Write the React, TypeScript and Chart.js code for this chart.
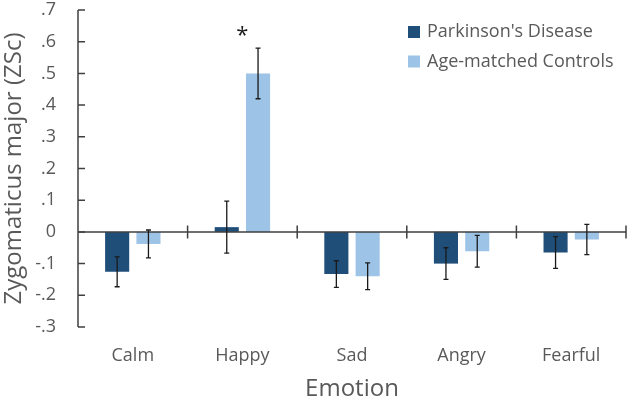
import React, { useEffect, useRef } from "react";
import { Chart, registerables } from "chart.js";

Chart.register(...registerables);

const categories = ["Calm", "Happy", "Sad", "Angry", "Fearful"];
const seriesLabels = ["Parkinson's Disease", "Age-matched Controls"];
const pdValues = [-0.126, 0.015, -0.133, -0.1, -0.065];
const pdErrors = [0.047, 0.082, 0.042, 0.05, 0.05];
const acValues = [-0.038, 0.5, -0.14, -0.061, -0.024];
const acErrors = [0.044, 0.08, 0.042, 0.05, 0.048];
const significant = [false, true, false, false, false];
const yMin = -0.3;
const yMax = 0.7;
const yStep = 0.1;

const FONT = "'Open Sans', 'Noto Sans', sans-serif";
const TEXT = "#595959";
const AXIS = "#404040";
const COLORS = ["#1f4e79", "#9dc3e6"];

const errors = [pdErrors, acErrors];

const fmtTick = (v: number) => {
  const r = Math.round(v * 10) / 10;
  if (Math.abs(r) < 1e-9) return "0";
  const s = r.toFixed(1);
  return s.replace("0.", ".");
};

const overlay = {
  id: "overlay",
  afterDatasetsDraw(chart: any) {
    const ctx = chart.ctx;
    const area = chart.chartArea;
    const x = chart.scales.x;
    const y = chart.scales.y;
    ctx.save();
    // zero line with crossing ticks at category boundaries
    const y0 = y.getPixelForValue(0);
    ctx.strokeStyle = AXIS;
    ctx.lineWidth = 1.5;
    ctx.beginPath();
    ctx.moveTo(area.left, y0);
    ctx.lineTo(area.right, y0);
    const n = categories.length;
    for (let i = 1; i <= n; i++) {
      const bx = x.getPixelForValue(i - 0.5);
      ctx.moveTo(bx, y0 - 6.5);
      ctx.lineTo(bx, y0 + 6.5);
    }
    ctx.stroke();
    // y ticks inward
    ctx.beginPath();
    for (let v = yMin; v <= yMax + 1e-9; v += yStep) {
      const py = y.getPixelForValue(v);
      ctx.moveTo(area.left, py);
      ctx.lineTo(area.left + 7, py);
    }
    ctx.moveTo(area.left, y.getPixelForValue(yMax));
    ctx.lineTo(area.left, y.getPixelForValue(yMin));
    ctx.stroke();
    // error bars
    ctx.strokeStyle = "#1a1a1a";
    ctx.lineWidth = 1.3;
    chart.data.datasets.forEach((ds: any, di: number) => {
      const meta = chart.getDatasetMeta(di);
      meta.data.forEach((bar: any, i: number) => {
        const v = ds.data[i];
        const e = errors[di][i];
        const top = y.getPixelForValue(v + e);
        const bot = y.getPixelForValue(v - e);
        const cx = bar.x;
        ctx.beginPath();
        ctx.moveTo(cx, top);
        ctx.lineTo(cx, bot);
        ctx.moveTo(cx - 2.5, top);
        ctx.lineTo(cx + 2.5, top);
        ctx.moveTo(cx - 2.5, bot);
        ctx.lineTo(cx + 2.5, bot);
        ctx.stroke();
      });
    });
    // significance markers
    ctx.fillStyle = "#1a1a1a";
    ctx.font = `22px ${FONT}`;
    ctx.textAlign = "center";
    ctx.textBaseline = "middle";
    significant.forEach((s, i) => {
      if (!s) return;
      const top = Math.max(pdValues[i] + pdErrors[i], acValues[i] + acErrors[i]);
      ctx.fillText("*", x.getPixelForValue(i), y.getPixelForValue(top) - 12);
    });
    // legend
    ctx.font = `18px ${FONT}`;
    ctx.textAlign = "left";
    ctx.textBaseline = "middle";
    seriesLabels.forEach((lab, i) => {
      const ly = 32 + i * 29.5;
      ctx.fillStyle = COLORS[i];
      ctx.fillRect(408, ly - 6, 12, 12);
      ctx.fillStyle = TEXT;
      ctx.fillText(lab, 427, ly);
    });
    ctx.restore();
  },
};

export default function App() {
  const ref = useRef<HTMLCanvasElement>(null);
  useEffect(() => {
    if (!ref.current) return;
    const chart = new Chart(ref.current, {
      type: "bar",
      data: {
        labels: categories,
        datasets: [
          { label: seriesLabels[0], data: pdValues, backgroundColor: COLORS[0], borderWidth: 0 },
          { label: seriesLabels[1], data: acValues, backgroundColor: COLORS[1], borderWidth: 0 },
        ],
      },
      options: {
        animation: false,
        responsive: false,
        maintainAspectRatio: false,
        layout: { padding: { top: 10, right: 4, left: 0, bottom: 0 } },
        datasets: { bar: { categoryPercentage: 0.571, barPercentage: 0.77 } },
        plugins: { legend: { display: false }, tooltip: { enabled: false } },
        scales: {
          x: {
            grid: { display: false, drawTicks: false },
            border: { display: false },
            ticks: { color: TEXT, font: { family: FONT, size: 18 }, padding: 18 },
            title: {
              display: true,
              text: "Emotion",
              color: TEXT,
              font: { family: FONT, size: 24 },
              padding: { top: 0, bottom: -4 },
            },
            afterFit: (s: any) => {
              s.height = 73;
              s.paddingLeft = 0;
              s.paddingRight = 0;
            },
          },
          y: {
            min: yMin,
            max: yMax,
            grid: { display: false, drawTicks: false },
            border: { display: false },
            ticks: {
              stepSize: yStep,
              color: TEXT,
              font: { family: FONT, size: 18 },
              padding: 22,
              callback: (v: any) => fmtTick(Number(v)),
            },
            title: {
              display: true,
              text: "Zygomaticus major (ZSc)",
              color: TEXT,
              font: { family: FONT, size: 24 },
              padding: { top: 0, bottom: 4 },
            },
            afterFit: (s: any) => {
              s.width = 78;
              s.paddingTop = 0;
              s.paddingBottom = 0;
            },
          },
        },
      },
      plugins: [overlay],
    });
    return () => chart.destroy();
  }, []);
  return (
    <div style={{ position: "fixed", left: 0, top: 0, width: 630, height: 400, background: "#fff" }}>
      <canvas ref={ref} width={630} height={400} />
    </div>
  );
}
